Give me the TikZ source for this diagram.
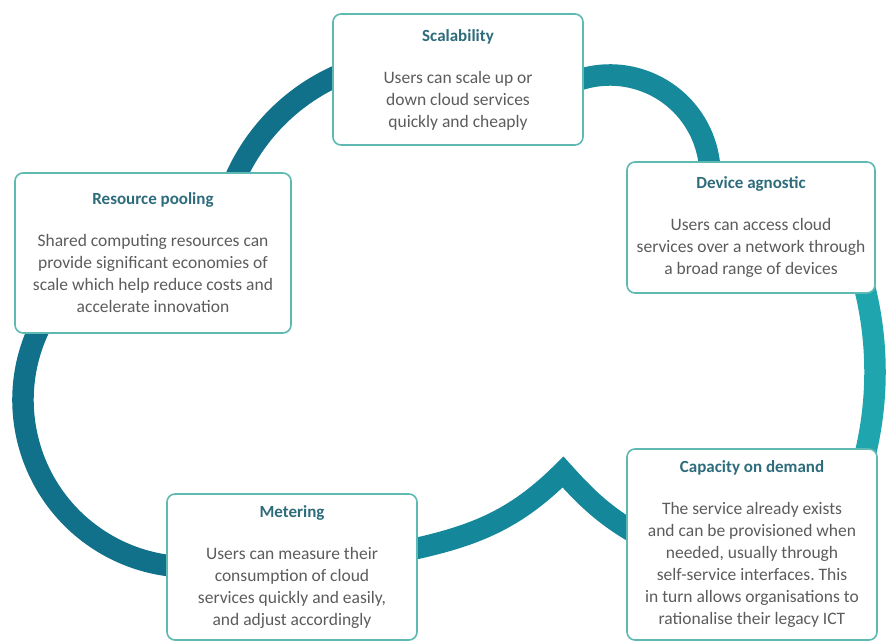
\documentclass[tikz,border=0pt]{standalone}
\usepackage{fontspec}
\setmainfont{Carlito}
\frenchspacing

\definecolor{cloudleft}{HTML}{11708A}
\definecolor{cloudtop}{HTML}{16899B}
\definecolor{cloudmid}{HTML}{15879A}
\definecolor{cloudright}{HTML}{1EA5AE}
\definecolor{boxline}{HTML}{5DB9B2}
\definecolor{headteal}{HTML}{2E6C7C}
\definecolor{bodygray}{HTML}{5C5C5C}

\begin{document}
\begin{tikzpicture}[
    x=1pt, y=1pt,
    cloud/.style={line width=21.5pt},
    feature/.style={draw=boxline, line width=1.6pt, fill=white,
        rounded corners=8pt, align=center, text=bodygray,
        font=\fontsize{17.5pt}{22pt}\selectfont}]

\useasboundingbox (0,0) rectangle (890,642);

% the cloud outline, drawn under the boxes
\draw[cloud, cloudleft] (420,382) ++(160:202pt)
    arc[start angle=160, end angle=110, radius=202pt];
\draw[cloud, cloudtop] (610,467) ++(115:100pt)
    arc[start angle=115, end angle=-5, radius=100pt];
\draw[cloud, cloudright] (524,270) ++(20:351pt)
    arc[start angle=20, end angle=-18, radius=351pt];
\draw[cloud, cloudmid, line join=miter] (405,91) to[out=12,in=225] (563,170)
    to[out=-48,in=150] (640,106);
\draw[cloud, cloudleft] (190,242) ++(150:167pt)
    arc[start angle=150, end angle=275, radius=167pt];

\node[feature, minimum width=250pt, minimum height=131pt] (scal) at (458,562.5)
    {\textcolor{headteal}{\bfseries\fontsize{17pt}{22pt}\selectfont Scalability}\\[20pt]
     Users can scale up or\\ down cloud services\\ quickly and cheaply};
\node[feature, minimum width=276pt, minimum height=160pt] (pool) at (153,389)
    {\textcolor{headteal}{\bfseries\fontsize{17pt}{22pt}\selectfont Resource pooling}\\[20pt]
     Shared computing resources can\\ provide significant economies of\\
     scale which help reduce costs and\\ accelerate innovation};
\node[feature, minimum width=248pt, minimum height=131pt] (dev) at (751,414.5)
    {\textcolor{headteal}{\bfseries\fontsize{17pt}{22pt}\selectfont Device agnostic}\\[20pt]
     Users can access cloud\\ services over a network through\\ a broad range of devices};
\node[feature, minimum width=250pt, minimum height=146pt] (meter) at (292,75)
    {\textcolor{headteal}{\bfseries\fontsize{17pt}{22pt}\selectfont Metering}\\[20pt]
     Users can measure their\\ consumption of cloud\\
     services quickly and easily,\\ and adjust accordingly};
\node[feature, minimum width=250pt, minimum height=191pt] (cap) at (752,97.5)
    {\textcolor{headteal}{\bfseries\fontsize{17pt}{22pt}\selectfont Capacity on demand}\\[20pt]
     The service already exists\\ and can be provisioned when\\ needed, usually through\\
     self-service interfaces. This\\ in turn allows organisations to\\
     rationalise their legacy ICT};

\end{tikzpicture}
\end{document}
